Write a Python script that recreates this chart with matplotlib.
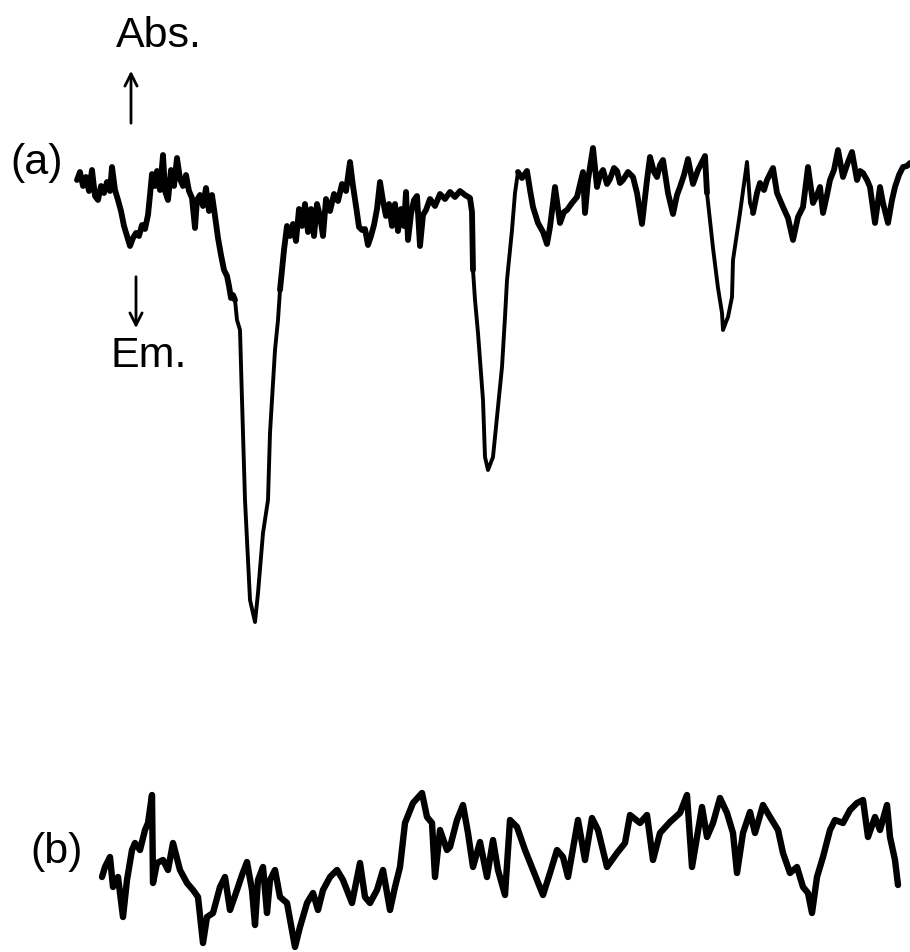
import matplotlib
matplotlib.use("Agg")
import matplotlib.pyplot as plt

# Trace (a): horizontal position and signal level (image-pixel units, y downward)
trace_a_x = [77, 80, 83, 86, 89, 92, 95, 98, 101, 104, 107, 110, 112, 115, 118, 121, 124, 127, 130,
             133, 136, 139, 142, 145, 148, 150, 152, 155, 157, 160, 163, 165, 168, 171, 174, 177,
             180, 183, 186, 189, 192, 195, 197, 200, 203, 206, 209, 212, 215, 218, 221, 224, 227,
             229, 231, 233, 235, 237, 240, 242, 245, 250, 255, 258, 263, 268, 270, 272, 275, 278,
             280, 284, 287, 290, 293, 296, 299, 302, 305, 308, 311, 314, 317, 320, 323, 326, 330,
             334, 338, 342, 346, 350, 353, 356, 359, 362, 365, 368, 371, 374, 377, 380, 383, 386,
             389, 392, 395, 398, 401, 404, 406, 408, 411, 414, 417, 420, 423, 426, 430, 435, 440,
             445, 450, 455, 460, 465, 470, 472, 473, 475, 478, 483, 485, 488, 493, 497, 502, 505,
             507, 512, 515, 518, 522, 527, 530, 533, 538, 543, 547, 550, 555, 560, 564, 567, 572,
             577, 583, 585, 588, 593, 597, 600, 603, 607, 610, 614, 617, 620, 623, 628, 633, 637,
             642, 647, 650, 654, 657, 660, 663, 668, 673, 677, 680, 684, 688, 693, 698, 702, 705,
             707, 713, 718, 722, 723, 726, 728, 732, 733, 740, 747, 750, 753, 757, 760, 764, 767,
             770, 773, 777, 780, 783, 788, 793, 798, 803, 808, 813, 817, 820, 823, 827, 830, 834,
             838, 843, 848, 852, 857, 860, 863, 867, 870, 875, 880, 883, 888, 892, 895, 899, 903,
             907, 910]
trace_a_y = [180, 172, 186, 177, 191, 170, 196, 200, 186, 193, 182, 191, 167, 190, 200, 211, 226, 236, 246,
             238, 233, 236, 225, 229, 215, 195, 174, 186, 171, 190, 155, 191, 200, 170, 186, 158,
             179, 186, 175, 191, 198, 228, 200, 195, 206, 188, 211, 195, 216, 238, 255, 270, 276,
             286, 298, 295, 300, 320, 330, 400, 500, 600, 622, 593, 533, 500, 433, 400, 350, 320,
             290, 250, 226, 236, 224, 241, 209, 226, 204, 232, 209, 236, 204, 216, 236, 199, 211,
             194, 201, 184, 191, 162, 186, 206, 227, 230, 229, 245, 236, 225, 209, 182, 201, 216,
             204, 226, 204, 231, 209, 226, 192, 240, 214, 200, 196, 246, 215, 210, 199, 206, 194,
             199, 192, 197, 191, 195, 198, 212, 270, 300, 333, 400, 457, 470, 457, 417, 367, 317,
             280, 230, 193, 172, 178, 171, 190, 207, 223, 232, 244, 227, 187, 223, 212, 210, 203,
             197, 172, 213, 180, 148, 187, 175, 170, 184, 179, 168, 171, 183, 180, 172, 177, 193,
             224, 180, 157, 172, 177, 165, 160, 193, 214, 195, 187, 175, 159, 184, 170, 162, 156,
             193, 248, 288, 313, 330, 322, 317, 297, 260, 213, 162, 203, 213, 193, 183, 190, 180,
             174, 168, 193, 200, 207, 218, 240, 217, 207, 167, 203, 195, 187, 213, 195, 180, 170,
             150, 177, 162, 152, 180, 171, 173, 180, 187, 223, 187, 203, 223, 200, 187, 175, 167,
             166, 163]

# Trace (b)
trace_b_x = [102, 105, 110, 113, 118, 123, 127, 132, 135, 140, 145, 148, 152, 153, 157, 163, 168, 173,
             180, 187, 193, 198, 203, 207, 213, 220, 225, 230, 237, 242, 247, 252, 255, 258, 263,
             267, 270, 275, 280, 287, 295, 300, 307, 313, 318, 323, 330, 337, 343, 352, 360, 365,
             370, 377, 383, 390, 395, 400, 405, 413, 422, 427, 432, 435, 440, 447, 450, 457, 463,
             468, 473, 480, 487, 493, 498, 505, 510, 517, 525, 533, 543, 550, 557, 563, 568, 575,
             578, 585, 592, 598, 607, 617, 625, 630, 640, 647, 653, 660, 670, 680, 687, 692, 697,
             702, 707, 713, 720, 727, 733, 737, 743, 750, 755, 763, 770, 778, 783, 790, 797, 803,
             808, 812, 817, 823, 830, 835, 843, 850, 857, 863, 868, 875, 880, 887, 890, 895, 898]
trace_b_y = [877, 867, 857, 887, 877, 917, 880, 850, 843, 850, 830, 823, 795, 883, 863, 860, 870, 843,
             870, 883, 890, 897, 943, 917, 913, 887, 877, 910, 890, 875, 862, 890, 925, 880, 867,
             913, 880, 870, 897, 903, 947, 927, 903, 893, 910, 890, 877, 870, 880, 903, 863, 897,
             903, 890, 870, 910, 887, 867, 823, 803, 793, 817, 823, 877, 830, 850, 847, 820, 805,
             833, 867, 842, 877, 840, 870, 895, 820, 827, 850, 870, 895, 873, 850, 857, 877, 837,
             820, 860, 818, 830, 867, 853, 843, 815, 823, 815, 860, 833, 822, 813, 795, 867, 837,
             807, 837, 823, 798, 813, 833, 873, 833, 812, 833, 805, 817, 830, 853, 873, 867, 887,
             893, 913, 877, 857, 830, 820, 823, 810, 803, 800, 837, 817, 830, 805, 837, 860, 885]

labels = ["(a)", "(b)", "Abs.", "Em."]

W, H = 910, 952
fig = plt.figure(figsize=(W / 100, H / 100), dpi=100)
ax = fig.add_axes([0, 0, 1, 1])
ax.set_xlim(0, W)
ax.set_ylim(H, 0)
ax.axis("off")

# whole trace (a), thin where it is smooth (the deep bands)
ax.plot(trace_a_x, trace_a_y, color="black", lw=2.8, solid_joinstyle="round",
        solid_capstyle="round")
# noisy baseline stretches look thicker in the original recording
for i0, i1 in [(0, 57), (70, 129), (141, 190), (201, len(trace_a_x))]:
    ax.plot(trace_a_x[i0:i1], trace_a_y[i0:i1], color="black", lw=4.2,
            solid_joinstyle="round", solid_capstyle="round")

ax.plot(trace_b_x, trace_b_y, color="black", lw=4.6, solid_joinstyle="round",
        solid_capstyle="round")

font = dict(family=["Liberation Sans", "DejaVu Sans"], fontsize=31, color="black")
ax.text(37, 163, labels[0], ha="center", va="center", **font)
ax.text(57, 852, labels[1], ha="center", va="center", **font)
ax.text(159, 36, labels[2], ha="center", va="center", **font)
ax.text(149, 356, labels[3], ha="center", va="center", **font)

ax.annotate("", xy=(131, 68), xytext=(131, 126),
            arrowprops=dict(arrowstyle="->", lw=2, color="black", mutation_scale=22))
ax.annotate("", xy=(136, 331), xytext=(136, 274),
            arrowprops=dict(arrowstyle="->", lw=2, color="black", mutation_scale=22))

fig.savefig("out.png", dpi=100)
